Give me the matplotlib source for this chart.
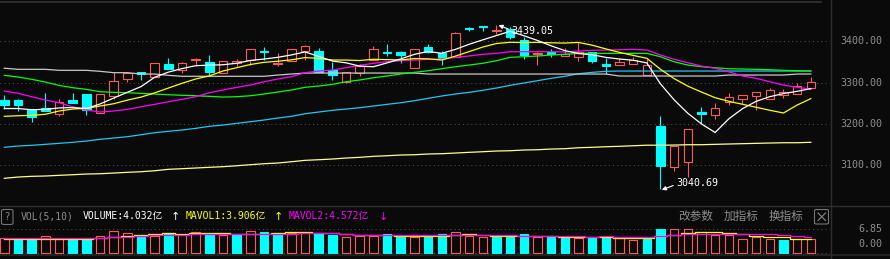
import matplotlib
matplotlib.use('Agg')
import matplotlib.pyplot as plt
from matplotlib.patches import Rectangle, FancyBboxPatch
from matplotlib.lines import Line2D

# ---------------- data ----------------
opens = [3257.6, 3257.6, 3235.0, 3238.9, 3222.9, 3257.6, 3272.1, 3225.3, 3268.0, 3307.8,
         3325.5, 3312.6, 3344.1, 3329.6, 3355.3, 3349.7, 3322.3, 3346.6, 3354.6, 3376.4,
         3345.6, 3352.1, 3377.1, 3376.4, 3329.6, 3301.9, 3323.8, 3353.8, 3373.2, 3374.0,
         3335.9, 3386.1, 3372.3, 3361.1, 3432.2, 3436.0, 3424.9, 3429.0, 3403.1, 3368.4,
         3373.2, 3365.0, 3362.6, 3374.7, 3344.9, 3341.7, 3344.1, 3318.9, 3194.5, 3094.4,
         3107.9, 3227.7, 3220.5, 3252.0, 3260.7, 3268.0, 3260.7, 3270.4, 3272.1, 3287.4]
highs = [3269.7, 3260.7, 3235.0, 3274.5, 3260.7, 3274.5, 3272.1, 3271.4, 3325.5, 3325.5,
         3325.5, 3346.6, 3359.4, 3349.7, 3359.4, 3366.7, 3351.4, 3356.3, 3380.5, 3385.4,
         3370.8, 3380.5, 3391.7, 3384.4, 3349.7, 3324.7, 3344.1, 3388.5, 3393.4, 3376.4,
         3380.5, 3393.4, 3377.1, 3421.7, 3435.0, 3436.5, 3439.05, 3435.3, 3411.1, 3374.7,
         3381.2, 3384.4, 3397.5, 3374.7, 3359.4, 3358.7, 3362.6, 3356.3, 3218.8, 3146.0,
         3187.2, 3240.6, 3249.6, 3274.5, 3269.0, 3276.2, 3286.7, 3283.5, 3299.5, 3313.3]
lows = [3236.5, 3231.6, 3204.9, 3231.6, 3220.0, 3251.0, 3221.2, 3225.3, 3260.7, 3300.5,
        3306.1, 3312.6, 3333.5, 3323.8, 3340.0, 3315.8, 3322.3, 3340.7, 3341.7, 3354.6,
        3340.7, 3352.1, 3354.6, 3326.2, 3306.1, 3298.8, 3315.8, 3353.8, 3365.0, 3348.0,
        3335.9, 3372.3, 3343.2, 3361.1, 3425.6, 3425.6, 3416.9, 3405.5, 3357.7, 3342.4,
        3362.6, 3365.0, 3352.9, 3348.0, 3320.6, 3341.7, 3344.1, 3318.9, 3040.69, 3086.1,
        3071.6, 3202.5, 3212.2, 3244.7, 3248.6, 3234.0, 3260.7, 3262.4, 3272.1, 3287.4]
closes = [3246.2, 3244.7, 3217.1, 3231.6, 3252.0, 3251.0, 3233.3, 3271.4, 3303.6, 3322.3,
          3319.9, 3346.6, 3333.5, 3346.6, 3357.7, 3326.2, 3351.4, 3352.1, 3380.5, 3374.7,
          3346.6, 3380.5, 3388.5, 3326.2, 3318.9, 3324.7, 3340.7, 3381.2, 3372.3, 3367.4,
          3380.5, 3374.7, 3359.4, 3420.0, 3429.0, 3434.6, 3426.6, 3411.1, 3366.7, 3371.5,
          3369.8, 3368.4, 3374.7, 3352.9, 3339.3, 3349.7, 3353.8, 3342.4, 3098.2, 3146.0,
          3187.2, 3224.3, 3238.2, 3264.1, 3269.0, 3276.2, 3281.1, 3276.2, 3290.8, 3301.9]

ma5 = [3237.0, 3237.0, 3234.0, 3235.0, 3238.3, 3239.3, 3237.0, 3247.9, 3262.3, 3276.3,
       3290.1, 3312.8, 3325.2, 3333.8, 3340.9, 3342.1, 3343.1, 3346.8, 3353.6, 3357.0,
       3361.1, 3366.9, 3374.2, 3363.3, 3352.1, 3347.8, 3339.8, 3338.3, 3347.6, 3357.3,
       3368.4, 3375.2, 3370.9, 3380.4, 3392.7, 3403.5, 3413.9, 3424.3, 3413.6, 3402.1,
       3389.1, 3377.5, 3370.2, 3367.5, 3361.0, 3357.0, 3354.1, 3347.6, 3296.7, 3258.0,
       3225.5, 3199.6, 3178.8, 3212.0, 3236.6, 3254.4, 3265.7, 3273.3, 3278.7, 3285.2]
ma10 = [3218.0, 3219.5, 3220.5, 3222.9, 3230.9, 3235.7, 3237.4, 3243.0, 3248.6, 3257.3,
        3264.7, 3274.9, 3286.6, 3298.1, 3308.6, 3316.1, 3328.0, 3336.0, 3343.7, 3349.0,
        3351.6, 3355.0, 3360.5, 3358.5, 3354.6, 3354.5, 3353.4, 3356.3, 3355.5, 3354.7,
        3358.1, 3357.5, 3354.6, 3364.0, 3375.0, 3386.0, 3394.6, 3397.6, 3397.0, 3397.4,
        3396.3, 3395.7, 3397.3, 3390.6, 3381.6, 3373.1, 3365.8, 3358.9, 3332.1, 3309.5,
        3291.3, 3276.9, 3263.2, 3254.4, 3247.3, 3240.0, 3232.7, 3226.1, 3245.4, 3260.9]
ma20 = [3279.4, 3273.8, 3265.6, 3257.6, 3251.0, 3241.3, 3233.3, 3228.5, 3230.9, 3235.0,
        3241.3, 3247.1, 3253.4, 3259.3, 3265.6, 3275.3, 3281.8, 3288.4, 3293.9, 3301.9,
        3308.5, 3314.1, 3323.8, 3327.9, 3330.3, 3335.9, 3341.7, 3346.6, 3350.4, 3352.9,
        3354.6, 3356.3, 3357.0, 3361.1, 3364.3, 3368.4, 3370.8, 3374.7, 3374.7, 3374.7,
        3374.7, 3374.0, 3376.4, 3378.1, 3378.8, 3379.5, 3380.5, 3378.8, 3366.7, 3356.3,
        3348.0, 3340.0, 3334.4, 3326.2, 3315.8, 3310.2, 3301.9, 3293.9, 3288.4, 3283.5]
ma30 = [3317.5, 3313.3, 3307.8, 3301.2, 3293.2, 3287.4, 3283.5, 3277.7, 3276.2, 3275.3,
        3273.8, 3272.1, 3270.4, 3269.0, 3268.0, 3266.5, 3264.8, 3265.6, 3268.0, 3272.1,
        3277.0, 3281.8, 3288.4, 3291.5, 3295.6, 3301.9, 3306.1, 3311.6, 3315.8, 3320.6,
        3324.7, 3328.6, 3333.5, 3338.3, 3342.4, 3346.6, 3352.9, 3361.1, 3362.6, 3364.3,
        3366.7, 3368.4, 3370.8, 3370.8, 3370.8, 3370.8, 3370.8, 3370.8, 3362.6, 3350.4,
        3342.4, 3338.3, 3335.9, 3333.5, 3332.7, 3332.0, 3331.0, 3329.6, 3328.6, 3327.9]
ma60 = [3334.7, 3332.0, 3332.0, 3332.0, 3329.6, 3329.6, 3329.6, 3327.2, 3323.9, 3323.9,
        3320.6, 3320.6, 3317.5, 3315.1, 3315.1, 3315.1, 3315.1, 3315.1, 3315.1, 3315.1,
        3318.2, 3320.6, 3323.0, 3323.0, 3323.0, 3323.0, 3323.0, 3323.0, 3323.0, 3323.0,
        3323.0, 3320.6, 3320.6, 3320.6, 3320.6, 3320.6, 3320.6, 3320.6, 3320.6, 3320.6,
        3320.6, 3320.6, 3320.6, 3320.6, 3320.6, 3315.8, 3315.8, 3315.8, 3315.8, 3315.8,
        3315.8, 3315.8, 3315.8, 3318.2, 3318.2, 3318.2, 3318.2, 3318.2, 3320.6, 3320.6]
ma120 = [3142.9, 3146.0, 3147.7, 3150.1, 3152.5, 3155.0, 3158.1, 3162.3, 3165.4, 3168.6,
         3173.4, 3178.3, 3181.7, 3184.8, 3188.9, 3193.8, 3196.9, 3201.0, 3204.9, 3209.1,
         3213.9, 3218.0, 3224.3, 3228.5, 3232.6, 3235.7, 3238.9, 3243.0, 3247.1, 3251.0,
         3255.9, 3261.7, 3267.3, 3272.1, 3276.2, 3281.1, 3286.7, 3293.2, 3298.8, 3304.4,
         3310.2, 3315.0, 3321.3, 3324.7, 3327.2, 3327.9, 3327.9, 3327.9, 3327.9, 3327.9,
         3327.9, 3327.9, 3327.9, 3327.9, 3327.9, 3327.9, 3327.9, 3327.9, 3327.9, 3327.9]
ma250 = [3067.7, 3070.8, 3072.5, 3073.3, 3074.9, 3076.4, 3078.1, 3078.8, 3080.5, 3082.2,
         3083.7, 3086.1, 3089.5, 3091.0, 3092.7, 3094.4, 3095.9, 3098.2, 3100.7, 3103.1,
         3104.8, 3107.9, 3111.3, 3112.8, 3114.5, 3116.9, 3118.6, 3121.0, 3122.5, 3124.2,
         3124.9, 3126.6, 3127.4, 3129.0, 3130.7, 3132.2, 3133.9, 3134.6, 3136.3, 3137.0,
         3138.7, 3139.5, 3141.9, 3142.9, 3144.3, 3145.3, 3146.7, 3148.0, 3148.0, 3148.4,
         3149.2, 3149.2, 3150.1, 3150.9, 3151.7, 3152.5, 3153.3, 3154.0, 3154.0, 3155.0]

volumes = [4.21, 4.01, 3.92, 4.90, 4.01, 4.01, 4.21, 4.90, 6.36, 5.68,
           5.09, 4.99, 5.68, 5.19, 5.97, 5.48, 5.19, 5.29, 6.36, 6.07,
           5.68, 5.68, 5.68, 5.68, 5.29, 4.50, 4.99, 4.99, 5.38, 4.70,
           4.50, 4.99, 5.38, 5.97, 4.99, 4.50, 4.70, 4.70, 5.48, 4.70,
           4.70, 4.70, 4.21, 4.41, 4.50, 4.41, 3.72, 4.01, 6.85, 6.80,
           6.82, 6.17, 5.19, 5.19, 3.92, 4.70, 3.92, 3.72, 3.92, 4.032]
vol_up = ['r', 'c', 'c', 'r', 'r', 'c', 'c', 'r', 'r', 'r',
          'c', 'r', 'c', 'r', 'r', 'c', 'r', 'c', 'r', 'c',
          'c', 'r', 'r', 'c', 'c', 'r', 'r', 'r', 'c', 'c',
          'r', 'c', 'c', 'r', 'r', 'r', 'c', 'c', 'c', 'r',
          'c', 'c', 'r', 'c', 'c', 'r', 'r', 'c', 'c', 'r',
          'r', 'r', 'r', 'r', 'r', 'r', 'r', 'c', 'r', 'r']
mavol1 = [4.00, 3.95, 3.92, 3.92, 4.00, 3.95, 4.10, 4.30, 4.50, 4.90,
          5.19, 5.38, 5.68, 5.40, 5.68, 5.68, 5.68, 5.38, 5.60, 5.60,
          5.70, 5.97, 5.97, 5.80, 5.70, 5.40, 5.20, 5.19, 5.19, 4.90,
          4.90, 4.90, 4.95, 5.19, 5.38, 5.10, 5.00, 4.90, 4.90, 4.90,
          4.90, 4.60, 4.50, 4.50, 4.50, 4.30, 4.21, 4.21, 4.90, 5.29,
          5.68, 6.17, 6.17, 5.87, 5.48, 4.90, 4.70, 4.50, 4.10, 3.906]
mavol2 = [4.21, 4.21, 4.21, 4.21, 4.21, 4.21, 4.21, 4.40, 4.50, 4.70,
          4.90, 5.10, 5.19, 5.19, 5.48, 5.48, 5.48, 5.48, 5.48, 5.48,
          5.48, 5.48, 5.68, 5.68, 5.68, 5.38, 5.29, 5.29, 5.29, 5.09,
          5.09, 5.09, 5.09, 5.09, 5.09, 5.09, 5.09, 5.09, 4.99, 4.99,
          4.99, 4.99, 4.80, 4.70, 4.90, 4.70, 4.70, 4.70, 4.99, 5.09,
          5.38, 5.38, 5.38, 5.38, 5.38, 5.38, 5.38, 5.09, 4.90, 4.572]

price_ticks = [3400, 3300, 3200, 3100]
vol_ticks = [6.85, 0.0]
menu_labels = ['改参数', '加指标', '换指标']

# ---------------- style ----------------
W, H = 890, 259
BG = '#0a0a0a'
RED = '#ff5a5a'
CYAN = '#00ffff'
GRID = '#505050'
SEP = '#2e2e2e'
TXT = '#8e8e8e'
MONO = ['DejaVu Sans Mono', 'Noto Sans CJK SC']
PX = 72 / 100.0  # points per pixel

fig = plt.figure(figsize=(W / 100, H / 100), dpi=100, facecolor=BG)


def rect(l, t, r, b):
    return [l / W, 1 - b / H, (r - l) / W, (b - t) / H]


def fy(y):
    return 1 - y / H


def fx(x):
    return x / W


n = len(closes)
idx = list(range(n))
step = 13.67
x0 = -0.315
xlim = (x0, x0 + 830 / step)

# ---------- main price axes ----------
ax = fig.add_axes(rect(0, 2, 830, 205))
ax.set_facecolor(BG)
ax.set_xlim(*xlim)
ppu = 0.41233  # pixels per index point
ax.set_ylim(3300 - (205 - 82.53) / ppu, 3300 + (82.53 - 2) / ppu)
for s in ax.spines.values():
    s.set_visible(False)
ax.set_xticks([])
ax.set_yticks([])

for t in price_ticks:
    ax.axhline(t, color=GRID, lw=0.75, ls=(0, (1, 3)), zorder=1)

bw = 0.62
lw_px = 0.8
for i in idx:
    o, h, l, c = opens[i], highs[i], lows[i], closes[i]
    top, bot = max(o, c), min(o, c)
    bh = max(top - bot, 1.2)
    if c >= o:
        ax.add_patch(Rectangle((i - bw / 2, bot), bw, bh, facecolor=BG, edgecolor=RED,
                               lw=lw_px, zorder=2))
        ax.plot([i, i], [top, h], color=RED, lw=lw_px, zorder=2, solid_capstyle='butt')
        ax.plot([i, i], [l, bot], color=RED, lw=lw_px, zorder=2, solid_capstyle='butt')
    else:
        ax.plot([i, i], [l, h], color=CYAN, lw=lw_px, zorder=2, solid_capstyle='butt')
        ax.add_patch(Rectangle((i - bw / 2, bot), bw, bh, facecolor=CYAN, edgecolor=CYAN,
                               lw=lw_px, zorder=2))

ma_styles = [(ma250, '#ffff8c'), (ma120, '#1ec8f0'), (ma60, '#c8c8c8'), (ma30, '#00ff00'),
             (ma20, '#ff00ff'), (ma10, '#ffff00'), (ma5, '#ffffff')]
for data, col in ma_styles:
    ax.plot(idx, data, color=col, lw=0.9, zorder=3)

# price labels on the right
for t in price_ticks:
    ax.annotate(f'{t:.2f}', xy=(1, t), xycoords=ax.get_yaxis_transform(),
                xytext=(52 * PX, 0), textcoords='offset points', ha='right', va='center',
                color=TXT, fontsize=7.2, family=MONO, annotation_clip=False)

# max / min annotations
imax = highs.index(max(highs))
imin = lows.index(min(lows))
ax.annotate(f'{highs[imax]:.2f}', xy=(imax + 0.15, highs[imax]),
            xytext=(x0 + 511 / step, 3300 + (82.53 - 31) / ppu),
            color='white', fontsize=7.2, family=MONO, ha='left', va='center', zorder=5,
            arrowprops=dict(arrowstyle='-|>', color='white', lw=0.8, mutation_scale=6,
                            shrinkA=0, shrinkB=0, relpos=(0, 0.6)))
ax.annotate(f'{lows[imin]:.2f}', xy=(imin + 0.1, lows[imin] - 1),
            xytext=(x0 + 676 / step, 3300 - (182.5 - 82.53) / ppu),
            color='white', fontsize=7.2, family=MONO, ha='left', va='center', zorder=5,
            arrowprops=dict(arrowstyle='-|>', color='white', lw=0.8, mutation_scale=6,
                            shrinkA=0, shrinkB=0, relpos=(0, 0.3)))

# ---------- volume axes ----------
axv = fig.add_axes(rect(0, 206, 830, 256))
axv.set_facecolor(BG)
axv.set_xlim(*xlim)
vpu = 3.416
axv.set_ylim(-(256 - 252.7) / vpu, (252.7 - 206) / vpu)
for s in axv.spines.values():
    s.set_visible(False)
axv.set_xticks([])
axv.set_yticks([])
for t in vol_ticks:
    axv.axhline(t, color=GRID, lw=0.75, ls=(0, (1, 3)), zorder=1)

for i in idx:
    v = volumes[i]
    if vol_up[i] == 'r':
        axv.add_patch(Rectangle((i - bw / 2, 0), bw, v, facecolor=BG, edgecolor=RED,
                                lw=lw_px, zorder=2))
    else:
        axv.add_patch(Rectangle((i - bw / 2, 0), bw, v, facecolor=CYAN, edgecolor=CYAN,
                                lw=lw_px, zorder=2))
axv.plot(idx, mavol1, color='#ffff00', lw=0.9, drawstyle='steps-mid', zorder=3)
axv.plot(idx, mavol2, color='#ff00ff', lw=0.9, drawstyle='steps-mid', zorder=3)

for t in vol_ticks:
    dy = 8.5 * PX if t == 0 else 0
    axv.annotate(f'{t:.2f}', xy=(1, t), xycoords=axv.get_yaxis_transform(),
                 xytext=(52 * PX, dy), textcoords='offset points', ha='right', va='center',
                 color=TXT, fontsize=7.2, family=MONO, annotation_clip=False)

# ---------- header texts ----------
yh = fy(216.5)
fig.text(fx(21), yh, 'VOL(5,10)', color=TXT, fontsize=7.0, family=MONO, va='center')
fig.text(fx(83), yh, f'VOLUME:{volumes[-1]:.3f}亿', color='white', fontsize=7.0,
         family=MONO, va='center')
fig.text(fx(175), yh, '↑', color='white', fontsize=8, family='DejaVu Sans',
         va='center', ha='center')
fig.text(fx(186), yh, f'MAVOL1:{mavol1[-1]:.3f}亿', color='#ffff00', fontsize=7.0,
         family=MONO, va='center')
fig.text(fx(278), yh, '↑', color='#ffff00', fontsize=8, family='DejaVu Sans',
         va='center', ha='center')
fig.text(fx(289), yh, f'MAVOL2:{mavol2[-1]:.3f}亿', color='#ff00ff', fontsize=7.0,
         family=MONO, va='center')
fig.text(fx(383), yh, '↓', color='#ff00ff', fontsize=8, family='DejaVu Sans',
         va='center', ha='center')
for lab, xl in zip(menu_labels, [678, 724, 769]):
    fig.text(fx(xl), fy(216), lab, color=TXT, fontsize=8.4,
             family=['Noto Sans CJK SC', 'DejaVu Sans'], va='center')

# "?" box
fig.add_artist(FancyBboxPatch((fx(1.5), fy(224.5)), fx(11.5), (224.5 - 209.5) / H,
                              boxstyle='round,pad=0,rounding_size=0.004',
                              transform=fig.transFigure, facecolor='none',
                              edgecolor='#777777', lw=0.8))
fig.text(fx(7.3), fy(217), '?', color='#888888', fontsize=7, family='DejaVu Sans',
         ha='center', va='center')
# close box
fig.add_artist(FancyBboxPatch((fx(814.5), fy(224)), fx(14), (224 - 209.5) / H,
                              boxstyle='round,pad=0,rounding_size=0.003',
                              transform=fig.transFigure, facecolor='none',
                              edgecolor='#777777', lw=0.8))
fig.add_artist(Line2D([fx(818), fx(825.5)], [fy(213), fy(220.5)], transform=fig.transFigure,
                      color='#888888', lw=0.8))
fig.add_artist(Line2D([fx(818), fx(825.5)], [fy(220.5), fy(213)], transform=fig.transFigure,
                      color='#888888', lw=0.8))

# ---------- separators ----------
def hline(y, x1, x2, col=SEP, lw=1.0):
    fig.add_artist(Line2D([fx(x1), fx(x2)], [fy(y), fy(y)], transform=fig.transFigure,
                          color=col, lw=lw))


def vline(x, y1, y2, col=SEP, lw=1.0):
    fig.add_artist(Line2D([fx(x), fx(x)], [fy(y1), fy(y2)], transform=fig.transFigure,
                          color=col, lw=lw))


hline(1.5, 0, 821, col='#303030', lw=1.3)
hline(205.7, 0, 890)
hline(254.8, 0, 890, col='#262626', lw=1.2)
vline(830.5, 0, 259)

fig.savefig('out.png', dpi=100, facecolor=BG)
